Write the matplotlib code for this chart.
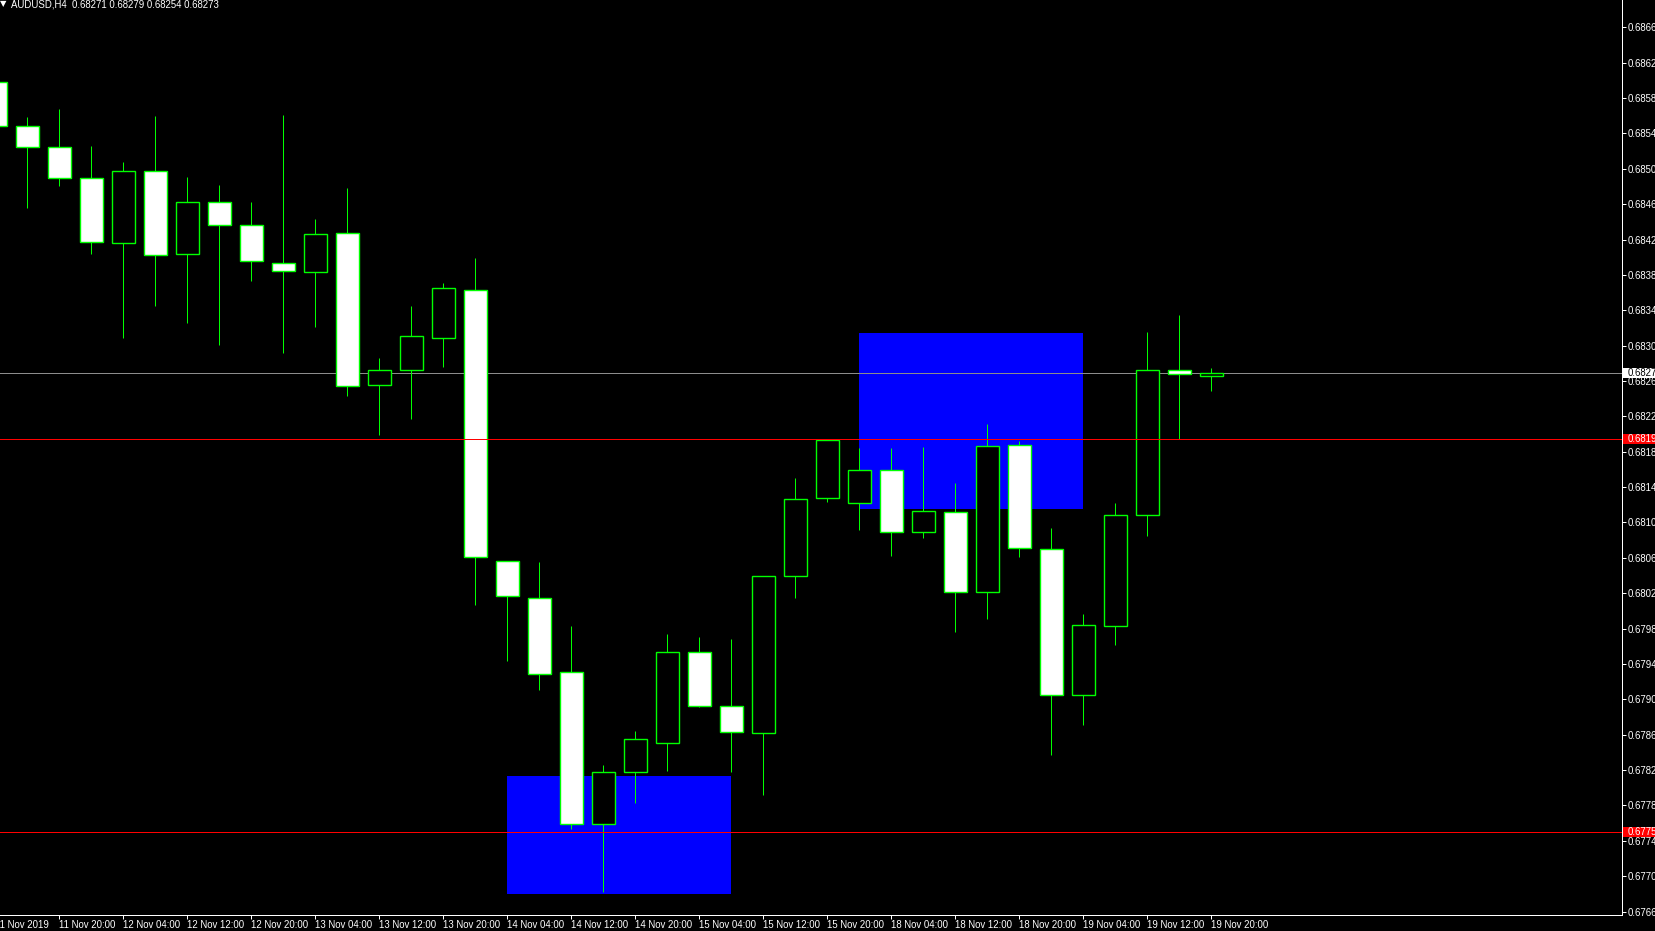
import numpy as np
import pandas as pd
import matplotlib
matplotlib.use('Agg')
import matplotlib.pyplot as plt
import matplotlib.transforms as mtransforms
from matplotlib.patches import Rectangle

plt.rcParams['font.family'] = ['Liberation Sans', 'DejaVu Sans']

symbol = 'AUDUSD,H4'
quote = [0.68271, 0.68279, 0.68254, 0.68273]   # O H L C of the running bar

# H4 bars from 11 Nov 2019 12:00 to 19 Nov 2019 20:00, weekend has no bars
times = pd.date_range('2019-11-11 12:00', '2019-11-19 20:00', freq='4h')
times = times[times.dayofweek < 5]

opens = [0.68598, 0.68548, 0.68525, 0.68490, 0.68416, 0.68498, 0.68404, 0.68463,
         0.68437, 0.68394, 0.68383, 0.68427, 0.68255, 0.68272, 0.68309, 0.68363,
         0.68056, 0.68015, 0.67931, 0.67759, 0.67818, 0.67851, 0.67954, 0.67893,
         0.67862, 0.68039, 0.68128, 0.68122, 0.68159, 0.68089, 0.68112, 0.68021,
         0.68188, 0.68070, 0.67905, 0.67983, 0.68108, 0.68272, 0.68266]
highs = [0.68606, 0.68559, 0.68568, 0.68526, 0.68508, 0.68560, 0.68491, 0.68482,
         0.68462, 0.68561, 0.68443, 0.68478, 0.68286, 0.68345, 0.68371, 0.68399,
         0.68056, 0.68055, 0.67983, 0.67826, 0.67864, 0.67974, 0.67971, 0.67968,
         0.68040, 0.68150, 0.68193, 0.68184, 0.68184, 0.68185, 0.68145, 0.68211,
         0.68192, 0.68094, 0.67997, 0.68122, 0.68315, 0.68335, 0.68275]
lows = [0.68540, 0.68456, 0.68481, 0.68404, 0.68309, 0.68345, 0.68326, 0.68301,
        0.68373, 0.68292, 0.68321, 0.68243, 0.68199, 0.68217, 0.68276, 0.68007,
        0.67943, 0.67910, 0.67753, 0.67682, 0.67783, 0.67819, 0.67891, 0.67818,
        0.67792, 0.68015, 0.68123, 0.68091, 0.68062, 0.68083, 0.67976, 0.67991,
        0.68061, 0.67837, 0.67871, 0.67962, 0.68085, 0.68194, 0.68249]
closes = [0.68548, 0.68525, 0.68490, 0.68417, 0.68497, 0.68403, 0.68462, 0.68436,
          0.68396, 0.68384, 0.68426, 0.68254, 0.68272, 0.68311, 0.68365, 0.68061,
          0.68017, 0.67929, 0.67759, 0.67818, 0.67855, 0.67954, 0.67893, 0.67863,
          0.68040, 0.68127, 0.68193, 0.68159, 0.68089, 0.68113, 0.68021, 0.68187,
          0.68071, 0.67905, 0.67984, 0.68108, 0.68273, 0.68268, 0.68269]

# supply / demand zones (bar index from, bar index to, top, bottom)
zone_from = [16, 27]
zone_to = [23, 34]
zone_top = [0.67813, 0.68314]
zone_bottom = [0.67680, 0.68115]

red_levels = [0.68194, 0.67750]

W, H = 1655, 931
fig = plt.figure(figsize=(W / 100, H / 100), dpi=100, facecolor='black')
ax = fig.add_axes([0, 16 / H, 1622 / W, 915 / H], facecolor='black')

n = len(opens)
x = np.arange(n)
px = 0.72  # 1 pixel in points

for i in range(len(zone_from)):
    ax.add_patch(Rectangle((zone_from[i], zone_bottom[i]), zone_to[i] - zone_from[i],
                           zone_top[i] - zone_bottom[i], fc='#0000ff', ec='none', zorder=1))

# bid line sits behind the candles
bid = closes[-1]
ax.axhline(bid, color='#8c8c8c', lw=px, zorder=2)

ax.vlines(x, lows, highs, color='#00ff00', lw=px, zorder=3)
bw = 0.72
for i in range(n):
    bull = closes[i] > opens[i]
    lo = min(opens[i], closes[i])
    h = max(abs(closes[i] - opens[i]), 0.00001)
    ax.add_patch(Rectangle((x[i] - bw / 2, lo), bw, h,
                           fc='black' if bull else 'white', ec='#00ff00',
                           lw=1.0, zorder=4))

for lv in red_levels:
    ax.axhline(lv, color='#ff0000', lw=px, zorder=5)

ax.set_xlim(0.147, 50.83)
ax.set_ylim(0.676561, 0.686909)

# axes frame like the terminal
for s in ['left', 'top']:
    ax.spines[s].set_visible(False)
for s in ['right', 'bottom']:
    ax.spines[s].set_color('white')
    ax.spines[s].set_linewidth(px)

yt = np.arange(0.6766, 0.68661, 0.0004)
ax.yaxis.tick_right()
ax.set_yticks(yt)
ax.set_yticklabels(['%.5f' % v for v in yt])
xt = list(range(2, n, 2))
ax.set_xticks(xt)
ax.set_xticklabels([times[i].strftime('%d %b %H:%M') for i in xt], ha='left')
ax.tick_params(axis='both', colors='white', length=4 * px, width=px,
               labelsize=6.9, direction='out')
ax.tick_params(axis='y', pad=1.2)
ax.tick_params(axis='x', pad=0.8)

ax.annotate(times[0].strftime('%d %b %Y'), xy=(0, 0), xycoords=('data', 'axes fraction'),
            xytext=(0, -5.1), textcoords='offset pixels', va='top', ha='left',
            color='white', fontsize=6.9, annotation_clip=False)

# price labels on the right scale
blend = mtransforms.blended_transform_factory(fig.transFigure, ax.transData)
tag_h = 10 / 88425
labels = [(bid, quote[3], 'white', 'black')] + [(lv, lv, '#ff0000', 'white') for lv in red_levels]
for price, txt, bg, fg in labels:
    ax.add_patch(Rectangle((1623 / W, price - tag_h / 2), 0.05, tag_h, transform=blend,
                           fc=bg, ec='none', clip_on=False, zorder=10))
    ax.text(1628 / W, price, '%.5f' % txt, transform=blend, va='center', ha='left',
            color=fg, fontsize=6.9, zorder=11, clip_on=False)

fig.text(0, 1 - 4 / H, '\u25bc', color='white', fontsize=6, va='center', ha='left',
         family='DejaVu Sans')
fig.text(11 / W, 1 - 7.5 / H, symbol + '  ' + ' '.join('%.5f' % v for v in quote),
         color='white', fontsize=6.9, va='baseline', ha='left')

fig.savefig('out.png', dpi=100, facecolor='black')
